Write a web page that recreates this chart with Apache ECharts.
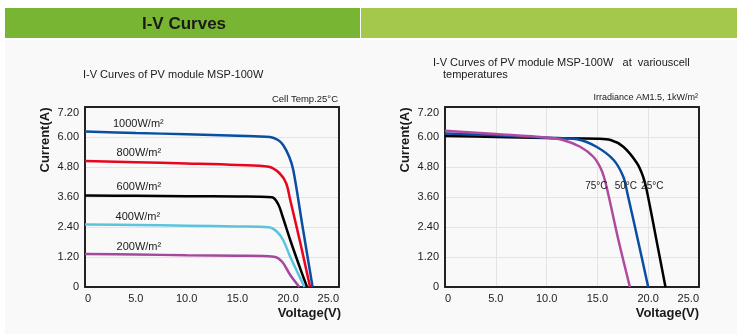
<!DOCTYPE html>
<html>
<head>
<meta charset="utf-8">
<script src="https://cdn.jsdelivr.net/npm/echarts@6/dist/echarts.min.js"></script>
<style>
html,body{margin:0;padding:0;background:#ffffff;}
#chart{width:747px;height:334px;}
</style>
</head>
<body>
<div id="chart"></div>
<script>
// ---- Data (Voltage V, Current A) ----
const xTicks = [0, 5, 10, 15, 20, 25];
const yTicks = [0, 1.2, 2.4, 3.6, 4.8, 6.0, 7.2];

// Left chart: irradiance curves at cell temp 25°C
const irrNames = ['1000W/m²', '800W/m²', '600W/m²', '400W/m²', '200W/m²'];
const irr1000 = [[0,6.22],[5,6.16],[10,6.11],[15,6.05],[18.2,6.0],[19.0,5.88],[19.5,5.68],[20.1,5.21],[20.5,4.68],[21.4,2.45],[22.4,0]];
const irr800  = [[0,5.04],[5,4.99],[10,4.94],[15,4.88],[18.1,4.81],[19.15,4.55],[19.8,4.15],[20.2,3.48],[21.2,1.75],[22.15,0]];
const irr600  = [[0,3.66],[5,3.65],[10,3.63],[15,3.62],[18.4,3.59],[19.05,3.28],[19.4,2.88],[20.2,1.88],[21.0,0.95],[21.85,0]];
const irr400  = [[0,2.50],[5,2.48],[10,2.45],[15,2.42],[18.1,2.39],[18.9,2.21],[19.5,1.88],[20.2,1.21],[20.9,0.6],[21.6,0]];
const irr200  = [[0,1.32],[5,1.30],[10,1.27],[15,1.25],[18.6,1.21],[19.4,1.01],[20.2,0.48],[21.1,0]];
const irrLabelPos = [[5.25,6.52],[5.3,5.36],[5.3,4.0],[5.2,2.8],[5.3,1.6]];

// Right chart: temperature curves at 1kW/m²
const tempNames = ['25°C', '50°C', '75°C'];
const temp25 = [[0,6.04],[5,6.0],[10,5.96],[15,5.93],[16.3,5.88],[17.55,5.61],[18.9,4.95],[19.5,4.41],[19.85,3.88],[20.8,1.9],[21.7,0]];
const temp50 = [[0,6.14],[5,6.07],[10,5.97],[13,5.91],[14.9,5.61],[16.6,5.08],[17.55,4.41],[17.95,3.75],[19.0,1.85],[20.0,0]];
const temp75 = [[0,6.25],[5,6.12],[10,5.98],[11.6,5.88],[13.3,5.61],[14.6,5.21],[15.4,4.68],[15.9,4.01],[17.0,2.0],[18.2,0]];
const tempLabelPos = [[20.4,4.04],[17.8,4.04],[14.9,4.04]];

const FONT = 'Liberation Sans, Arial, Helvetica, sans-serif';
const irrColors = ['#0a4ea3', '#e8061f', '#000000', '#5cc3dc', '#a3489c'];
const tempColors = ['#000000', '#0a4ea3', '#b04aa0'];

function lineSeries(name, data, color, axisIdx, labelPos) {
  return {
    type: 'line', name: name, data: data,
    xAxisIndex: axisIdx, yAxisIndex: axisIdx,
    showSymbol: false, smooth: 0.35,
    lineStyle: { color: color, width: 2.5 },
    itemStyle: { color: color },
    silent: true,
    markPoint: {
      symbol: 'circle', symbolSize: 0, silent: true,
      data: [{ coord: labelPos, value: name }],
      label: { show: true, position: 'inside', formatter: name,
        color: '#1a1a1a', fontSize: axisIdx === 0 ? 11 : 10, fontFamily: FONT }
    }
  };
}

const series = [];
[irr1000, irr800, irr600, irr400, irr200].forEach((d, i) => {
  series.push(lineSeries(irrNames[i], d, irrColors[i], 0, irrLabelPos[i]));
});
[temp25, temp50, temp75].forEach((d, i) => {
  series.push(lineSeries(tempNames[i], d, tempColors[i], 1, tempLabelPos[i]));
});

const frameLine = { show: true, onZero: false, lineStyle: { color: '#222', width: 2 } };

function xAxis(gridIndex, showSplit) {
  return {
    type: 'value', gridIndex: gridIndex, min: 0, max: 25, interval: 5, position: 'bottom',
    axisLine: frameLine, axisTick: { show: false },
    splitLine: { show: showSplit, showMinLine: false, showMaxLine: false, lineStyle: { color: '#e4e4e4', width: 1 } },
    axisLabel: { color: '#222', fontSize: 11, fontFamily: FONT, margin: 6,
      alignMinLabel: 'left', alignMaxLabel: 'right',
      formatter: v => v === 0 ? '0' : v.toFixed(1) }
  };
}
function xAxisTop(gridIndex) {
  return {
    type: 'value', gridIndex: gridIndex, min: 0, max: 25, interval: 5, position: 'top',
    axisLine: frameLine, axisTick: { show: false }, axisLabel: { show: false }, splitLine: { show: false }
  };
}
function yAxis(gridIndex) {
  return {
    type: 'value', gridIndex: gridIndex, min: 0, max: 7.2, interval: 1.2, position: 'left',
    axisLine: frameLine, axisTick: { show: false },
    splitLine: { show: true, showMinLine: false, showMaxLine: false, lineStyle: { color: '#e4e4e4', width: 1 } },
    axisLabel: { color: '#222', fontSize: 11, fontFamily: FONT, margin: 6,
      verticalAlignMaxLabel: 'top',
      formatter: v => v === 0 ? '0' : v.toFixed(2) }
  };
}
function yAxisRight(gridIndex) {
  return {
    type: 'value', gridIndex: gridIndex, min: 0, max: 7.2, interval: 1.2, position: 'right',
    axisLine: frameLine, axisTick: { show: false }, axisLabel: { show: false }, splitLine: { show: false }
  };
}

const txt = (x, y, text, opts) => ({
  type: 'text', x: x, y: y, silent: true,
  style: Object.assign({ text: text, fill: '#1a1a1a', font: '11px ' + FONT, align: 'left', verticalAlign: 'middle' }, opts || {})
});

const option = {
  animation: false,
  backgroundColor: '#ffffff',
  grid: [
    { left: 85, top: 107, width: 254, height: 180, show: false },
    { left: 445, top: 107, width: 254, height: 180, show: false }
  ],
  xAxis: [xAxis(0, false), xAxis(1, true), xAxisTop(0), xAxisTop(1)],
  yAxis: [yAxis(0), yAxis(1), yAxisRight(0), yAxisRight(1)],
  series: series,
  graphic: [
    { type: 'rect', z: -10, silent: true, shape: { x: 5, y: 40, width: 732, height: 294 }, style: { fill: '#f9f9f9' } },
    { type: 'rect', silent: true, shape: { x: 5, y: 8, width: 355, height: 30 }, style: { fill: '#77b533' } },
    { type: 'rect', silent: true, shape: { x: 361, y: 8, width: 376, height: 30 }, style: { fill: '#a3c84b' } },
    txt(184, 24, 'I-V Curves', { font: 'bold 17px ' + FONT, align: 'center', fill: '#1a1a1a' }),
    txt(83, 75, 'I-V Curves of PV module MSP-100W', { font: '11px ' + FONT }),
    txt(338, 99, 'Cell Temp.25°C', { font: '9.5px ' + FONT, align: 'right' }),
    txt(433, 63, 'I-V Curves of PV module MSP-100W   at  variouscell', { font: '11px ' + FONT }),
    txt(443, 75, 'temperatures', { font: '11px ' + FONT }),
    txt(698, 98, 'Irradiance AM1.5, 1kW/m²', { font: '9px ' + FONT, align: 'right' }),
    { type: 'text', x: 45.5, y: 140, rotation: Math.PI / 2, silent: true,
      style: { text: 'Current(A)', font: 'bold 13px ' + FONT, fill: '#1a1a1a', align: 'center', verticalAlign: 'middle' } },
    { type: 'text', x: 405, y: 140, rotation: Math.PI / 2, silent: true,
      style: { text: 'Current(A)', font: 'bold 13px ' + FONT, fill: '#1a1a1a', align: 'center', verticalAlign: 'middle' } },
    txt(341, 313, 'Voltage(V)', { font: 'bold 13px ' + FONT, align: 'right' }),
    txt(699, 313, 'Voltage(V)', { font: 'bold 13px ' + FONT, align: 'right' })
  ]
};

const chart = echarts.init(document.getElementById('chart'), null, { renderer: 'canvas' });
chart.setOption(option);
</script>
</body>
</html>
